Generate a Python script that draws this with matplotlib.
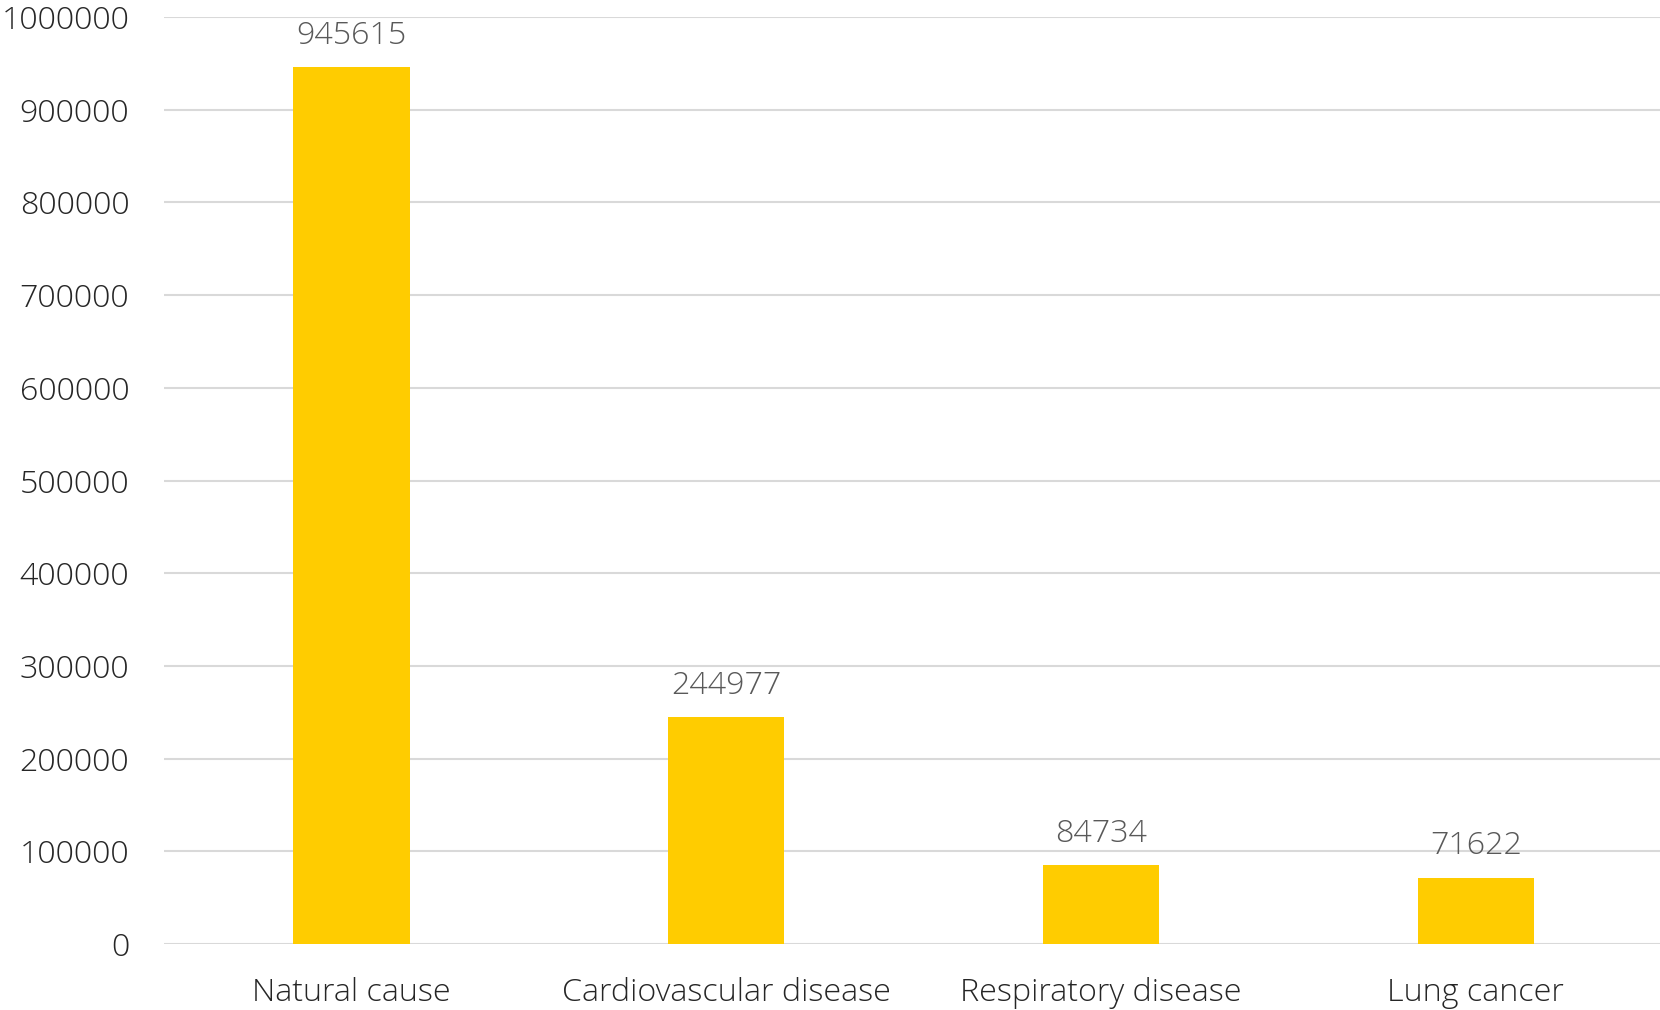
import matplotlib.pyplot as plt
import numpy as np

causes = ['Natural cause', 'Cardiovascular disease', 'Respiratory disease', 'Lung cancer']
deaths = [945615, 244977, 84734, 71622]
yticks = np.arange(0, 1000001, 100000)

plt.rcParams['font.family'] = ['Open Sans', 'DejaVu Sans']

fig = plt.figure(figsize=(16.6, 10.1), dpi=100)
ax = fig.add_axes([0.0988, 0.0653, 0.9032, 0.9179])

x = np.arange(len(causes))
bars = ax.bar(x, deaths, width=0.31, color='#FFCC00', zorder=3)

for b, v in zip(bars, deaths):
    ax.annotate(str(v), (b.get_x() + b.get_width() / 2, v),
                xytext=(0, 11), textcoords='offset points',
                ha='center', va='bottom', fontsize=23.2, color='#595959',
                fontweight='light')

ax.set_xlim(-0.5, len(causes) - 0.5)
ax.set_ylim(0, 1000000)
ax.set_yticks(yticks)
ax.set_yticklabels([str(t) for t in yticks], fontsize=23.2, color='#262626',
                   fontweight='light')
ax.set_xticks(x)
ax.set_xticklabels(causes, fontsize=23.2, color='#262626', fontweight='light')

ax.grid(axis='y', color='#d9d9d9', linewidth=1.5, zorder=0)
ax.tick_params(axis='both', length=0)
ax.tick_params(axis='y', pad=25)
ax.tick_params(axis='x', pad=24)
for s in ax.spines.values():
    s.set_visible(False)

fig.savefig('out.png', dpi=100)
